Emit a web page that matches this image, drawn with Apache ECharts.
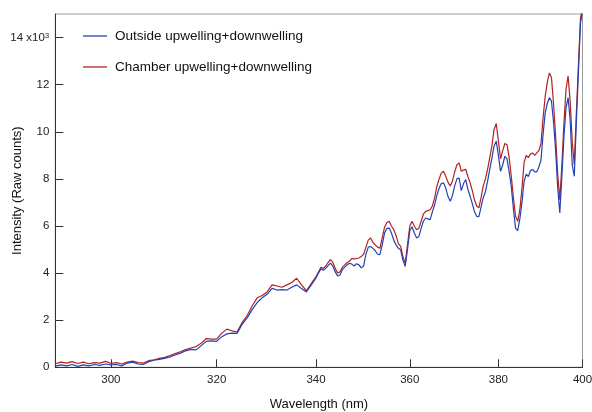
<!DOCTYPE html>
<html>
<head>
<meta charset="utf-8">
<script src="https://cdn.jsdelivr.net/npm/echarts@6/dist/echarts.min.js"></script>
<style>html,body{margin:0;padding:0;background:#fff;}#c{width:592px;height:412px;}</style>
</head>
<body>
<div id="c"></div>
<script>
// Wavelength (nm)
const wavelengths = [
290,291,292,293,294,295,296,297,298,299,300,301,302,303,304,305,306,307,308,309,
310,311,312,313,314,315,316,317,318,319,320,321,322,323,324,325,326,327,328,329,
330,331,332,333,334,335,336,337,338,339,340,
340.5,341,341.5,342,342.5,343,343.5,344,344.5,345,345.5,346,346.5,347,347.5,348,348.5,349,349.5,350,
350.5,351,351.5,352,352.5,353,353.5,354,354.5,355,355.5,356,356.5,357,357.5,358,358.5,359,359.5,360,
360.5,361,361.5,362,362.5,363,363.5,364,364.5,365,365.5,366,366.5,367,367.5,368,368.5,369,369.5,370,
370.5,371,371.5,372,372.5,373,373.5,374,374.5,375,375.5,376,376.5,377,377.5,378,378.5,379,379.5,380,
380.5,381,381.5,382,382.5,383,383.5,384,384.5,385,385.5,386,386.5,387,387.5,388,388.5,389,389.5,390,
390.5,391,391.5,392,392.5,393,393.5,394,394.5,395,395.5,396,396.5,397,397.5,398,398.5,399,399.5,400
];
// Intensity, thousands of raw counts
const chamber = [
0.15,0.22,0.18,0.24,0.16,0.22,0.15,0.20,0.18,0.25,0.17,0.20,0.14,0.22,0.26,0.20,0.18,0.28,0.32,0.38,
0.42,0.50,0.58,0.66,0.75,0.82,0.88,1.02,1.22,1.20,1.20,1.45,1.62,1.55,1.50,1.90,2.20,2.60,2.95,3.05,
3.20,3.50,3.45,3.40,3.50,3.60,3.78,3.50,3.25,3.55,3.85,
4.05,4.25,4.20,4.30,4.45,4.57,4.45,4.20,4.00,4.05,4.25,4.35,4.45,4.50,4.62,4.60,4.62,4.64,4.70,4.80,
5.10,5.40,5.49,5.30,5.20,5.10,5.06,5.50,5.95,6.15,6.20,6.00,5.84,5.60,5.25,5.13,4.70,4.42,5.20,6.00,
6.20,6.00,5.84,5.90,6.20,6.50,6.62,6.65,6.69,6.85,7.19,7.68,8.00,8.25,8.32,8.10,7.85,7.70,7.90,8.30,
8.60,8.68,8.32,8.38,8.40,8.10,7.83,7.50,7.10,6.85,6.77,7.20,7.70,8.00,8.40,8.90,9.40,10.10,10.35,9.60,
8.85,9.20,9.50,9.45,8.90,8.10,7.20,6.41,6.20,6.69,7.60,8.70,9.00,8.90,9.05,9.10,9.00,9.10,9.20,9.50,
10.60,11.51,12.10,12.50,12.30,11.20,9.80,8.20,7.12,8.60,10.38,11.80,12.37,11.30,9.60,8.60,10.80,12.80,14.80,15.30
];
const outside = [
0.05,0.10,0.06,0.12,0.04,0.10,0.06,0.12,0.08,0.14,0.10,0.12,0.06,0.18,0.22,0.14,0.12,0.24,0.30,0.34,
0.38,0.44,0.52,0.60,0.70,0.76,0.74,0.92,1.10,1.12,1.10,1.30,1.42,1.45,1.44,1.82,2.10,2.45,2.75,2.95,
3.10,3.35,3.28,3.30,3.28,3.40,3.50,3.35,3.20,3.50,3.80,
4.00,4.18,4.12,4.20,4.32,4.42,4.30,4.05,3.88,3.92,4.15,4.25,4.35,4.42,4.38,4.30,4.40,4.35,4.22,4.30,
4.80,5.10,5.13,5.05,4.95,4.80,4.78,5.20,5.70,5.90,5.91,5.70,5.40,5.20,5.05,4.99,4.55,4.28,5.00,5.80,
5.97,5.70,5.49,5.55,5.90,6.20,6.34,6.30,6.27,6.60,6.90,7.30,7.60,7.80,7.83,7.60,7.25,7.05,7.30,7.70,
8.00,8.04,7.50,7.80,7.97,7.55,7.26,6.95,6.60,6.41,6.40,6.80,7.20,7.45,7.90,8.40,8.89,9.40,9.60,9.00,
8.32,8.60,8.96,8.85,8.30,7.68,6.70,5.90,5.80,6.30,7.00,7.90,8.20,8.10,8.35,8.40,8.30,8.30,8.50,8.80,
9.90,10.80,11.20,11.45,11.30,10.40,9.20,7.60,6.55,8.10,9.80,11.00,11.45,10.50,8.60,8.11,10.40,12.50,14.60,15.10
];
const xTicks = [300,320,340,360,380,400];
const yTicks = [0,2,4,6,8,10,12,14];
const seriesNames = ['Outside upwelling+downwelling','Chamber upwelling+downwelling'];

const lg = v => Math.log10(v);
const toPts = arr => wavelengths.map((w,i)=>[lg(w), arr[i]]);

const chart = echarts.init(document.getElementById('c'), null, {renderer:'canvas'});
const font = 'Liberation Sans, Arial, Helvetica, sans-serif';
chart.setOption({
  animation:false,
  backgroundColor:'#ffffff',
  textStyle:{fontFamily:font},
  grid:{left:55.3, right:9.5, top:14, bottom:44.7, containLabel:false, outerBoundsMode:'none',
        show:true, borderColor:'#9a9a9a', borderWidth:1},
  legend:{
    data:seriesNames, orient:'vertical', left:83, top:28, padding:0,
    icon:'rect', itemWidth:24, itemHeight:1.3, itemGap:15,
    textStyle:{fontSize:13.5, color:'#111', fontFamily:font, lineHeight:16, padding:[0,0,0,3]}
  },
  xAxis:{
    type:'value', min:lg(290), max:lg(400),
    axisLine:{lineStyle:{color:'#333', width:1}},
    axisTick:{inside:true, length:8, customValues:xTicks.map(lg), lineStyle:{color:'#333'}},
    axisLabel:{customValues:xTicks.map(lg), formatter:v=>String(Math.round(Math.pow(10,v))), fontSize:11.5, color:'#222', margin:7, fontFamily:font},
    splitLine:{show:false},
    name:'Wavelength (nm)', nameLocation:'middle', nameGap:31, nameMoveOverlap:false,
    nameTextStyle:{fontSize:13, color:'#111', fontFamily:font}
  },
  yAxis:{
    type:'value', min:0, max:15,
    axisLine:{show:true, lineStyle:{color:'#333', width:1}},
    axisTick:{show:true, inside:true, length:8, customValues:yTicks, lineStyle:{color:'#333'}},
    axisLabel:{customValues:yTicks, fontSize:11.5, color:'#222', margin:6, fontFamily:font,
      formatter:v=> v===14 ? '14 x10{s|3}' : String(v),
      rich:{s:{fontSize:8, verticalAlign:'top', color:'#222', fontFamily:font}}},
    splitLine:{show:false},
    name:'Intensity (Raw counts)', nameLocation:'middle', nameGap:31, nameMoveOverlap:false,
    nameTextStyle:{fontSize:13, color:'#111', fontFamily:font}
  },
  series:[
    {name:seriesNames[1], type:'line', data:toPts(chamber), showSymbol:false, symbol:'none',
     lineStyle:{color:'#b22222', width:1.2}, itemStyle:{color:'#b22222'}, z:2},
    {name:seriesNames[0], type:'line', data:toPts(outside), showSymbol:false, symbol:'none',
     lineStyle:{color:'#2341b5', width:1.2}, itemStyle:{color:'#2341b5'}, z:3}
  ]
});
</script>
</body>
</html>
